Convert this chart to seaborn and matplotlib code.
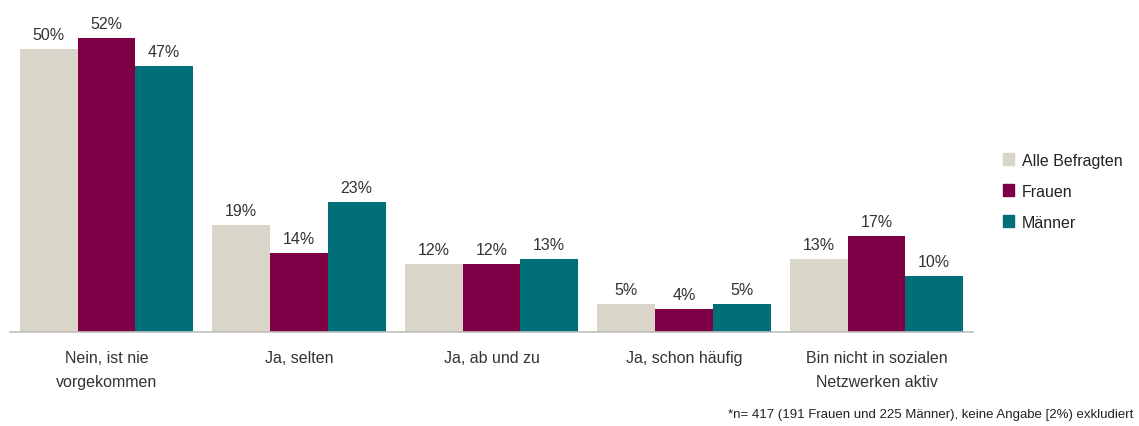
import pandas as pd
import matplotlib
matplotlib.use('Agg')
import matplotlib.pyplot as plt
import seaborn as sns

# Daten aus der Grafik
kategorien = ['Nein, ist nie\nvorgekommen', 'Ja, selten', 'Ja, ab und zu',
              'Ja, schon häufig', 'Bin nicht in sozialen\nNetzwerken aktiv']
serien = ['Alle Befragten', 'Frauen', 'Männer']
alle = [50, 19, 12, 5, 13]
frauen = [52, 14, 12, 4, 17]
maenner = [47, 23, 13, 5, 10]
farben = ['#D9D5C9', '#7D0046', '#006F78']
fussnote = '*n= 417 (191 Frauen und 225 Männer), keine Angabe [2%) exkludiert'

rows = []
for name, werte in zip(serien, [alle, frauen, maenner]):
    for k, v in zip(kategorien, werte):
        rows.append({'kategorie': k, 'serie': name, 'wert': v})
df = pd.DataFrame(rows)

sns.set_style('white')
plt.rcParams['font.family'] = ['Liberation Sans', 'DejaVu Sans']

fig = plt.figure(figsize=(11.39, 4.27), dpi=100)
ax = fig.add_axes([0.009, 0.22, 0.845, 0.768])

sns.barplot(data=df, x='kategorie', y='wert', hue='serie', order=kategorien,
            hue_order=serien, palette=farben, width=0.9, saturation=1,
            linewidth=0, ax=ax, legend=False)

for cont in ax.containers:
    ax.bar_label(cont, fmt='%d%%', padding=5, fontsize=11.5, color='#333333')

ax.set_ylim(0, 58)
ax.set_xlim(-0.5, 4.5)
ax.set_xlabel('')
ax.set_ylabel('')
ax.set_yticks([])
ax.tick_params(axis='x', length=0, pad=13, labelsize=11.5, labelcolor='#333333')
for lbl in ax.get_xticklabels():
    lbl.set_linespacing(1.75)
for s in ['top', 'right', 'left']:
    ax.spines[s].set_visible(False)
ax.spines['bottom'].set_color('#BFBFBF')
ax.spines['bottom'].set_linewidth(1.2)

handles = [plt.Rectangle((0, 0), 1, 1, color=c) for c in farben]
fig.legend(handles, serien, loc='center left', bbox_to_anchor=(0.868, 0.55),
           frameon=False, fontsize=11.5, handlelength=0.7, handleheight=0.7,
           labelspacing=1.0, handletextpad=0.5, labelcolor='#222222')

fig.text(0.995, 0.015, fussnote, ha='right', va='bottom', fontsize=9.5,
         color='#222222')

fig.savefig('out.png', dpi=100)
